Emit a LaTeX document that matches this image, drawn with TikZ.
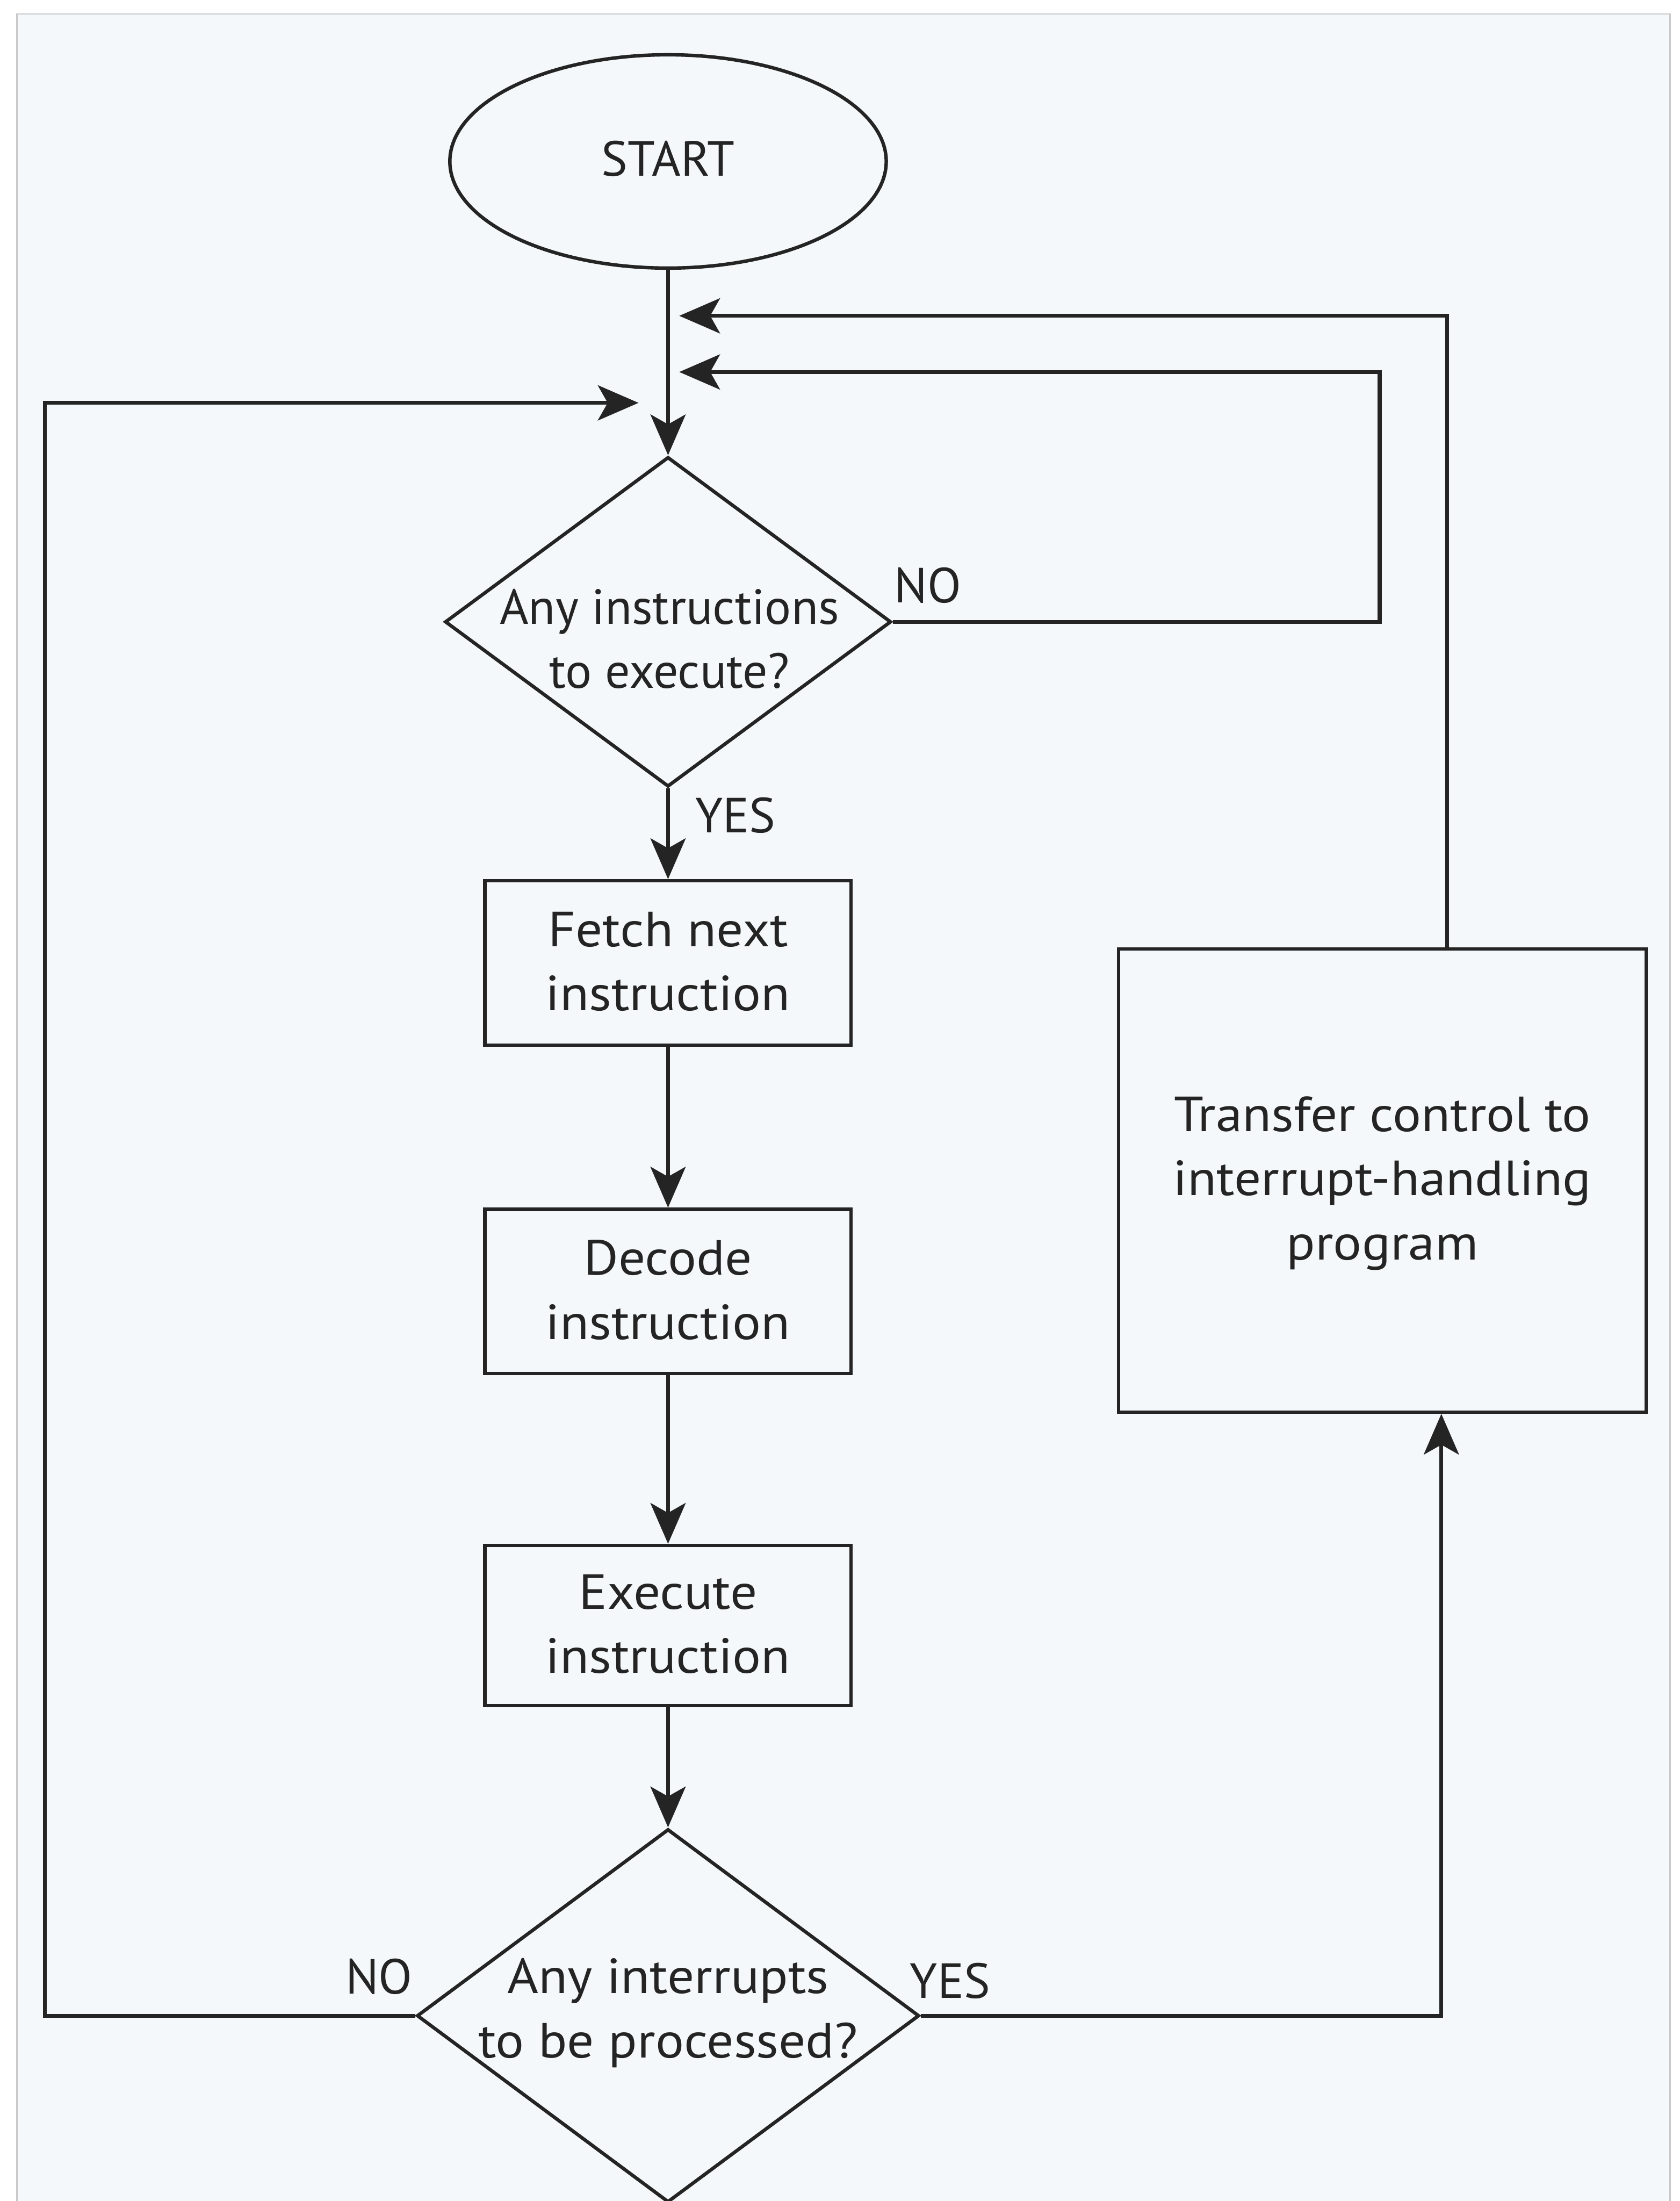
\documentclass[tikz,border=0pt]{standalone}
\usepackage{fontspec}
\setmainfont{PT Sans}
\newfontfamily\widefont[FakeStretch=1.08]{PT Sans}
\usetikzlibrary{shapes.geometric,arrows.meta}
\definecolor{ink}{HTML}{242424}
\definecolor{paper}{HTML}{F4F8FA}
\definecolor{framec}{HTML}{C8C8C8}
\begin{document}
\begin{tikzpicture}[x=0.02cm,y=-0.02cm,
  every node/.style={text=ink},
  shapeline/.style={draw=ink,line width=1.4pt},
  term/.style={shapeline,ellipse,minimum width=6.22cm,minimum height=3.04cm,inner sep=0pt},
  dia/.style={shapeline,diamond,inner sep=0pt},
  procbox/.style={shapeline,rectangle,minimum width=5.22cm,minimum height=2.34cm,inner sep=0pt},
  txt/.style={align=center,inner sep=0pt,font=\fontsize{20}{26}\selectfont},
  widetxt/.style={align=center,inner sep=0pt,font=\widefont\fontsize{20}{26}\selectfont},
  lbl/.style={inner sep=0pt,font=\fontsize{20}{26}\selectfont},
  conn/.style={draw=ink,line width=1.6pt},
  arr/.style={conn,-{Stealth[length=0.58cm,width=0.5cm,inset=0.14cm]}}]
\useasboundingbox (0,0) rectangle (1197,1568);
\fill[white] (0,0) rectangle (1197,1568);
\filldraw[fill=paper,draw=framec,line width=0.6pt] (12,10) rectangle (1190,1590);

% shapes
\node[term] (start) at (476,115) {};
\node[txt] (startt) at (476,113) {START};
\node[dia,minimum width=6.36cm,minimum height=4.70cm] (d1) at (476,443) {};
\node[txt] (d1t) at (477,455) {Any instructions\\to execute?};
\node[procbox] (b1) at (476,686) {};
\node[widetxt] (b1t) at (476,685) {Fetch next\\instruction};
\node[procbox] (b2) at (476,920) {};
\node[widetxt] (b2t) at (476,919) {Decode\\instruction};
\node[procbox,minimum height=2.28cm] (b3) at (476,1158) {};
\node[widetxt] (b3t) at (476,1157) {Execute\\instruction};
\node[dia,minimum width=7.16cm,minimum height=5.32cm] (d2) at (476,1436) {};
\node[widetxt] (d2t) at (476,1434) {Any interrupts\\to be processed?};
\node[shapeline,rectangle,minimum width=7.52cm,minimum height=6.6cm,inner sep=0pt] (tr) at (985,841) {};
\node[widetxt] (trt) at (985,843) {Transfer control to\\interrupt-handling\\program};

% labels
\node[lbl] (no1) at (661,417) {NO};
\node[lbl] (yes1) at (524,581) {YES};
\node[lbl] (no2) at (270,1408) {NO};
\node[lbl] (yes2) at (677,1411) {YES};

% corner coordinates
\coordinate (nlb) at (32,1436);
\coordinate (nlt) at (32,287);
\coordinate (nle) at (455,287);
\coordinate (n1c) at (983,443);
\coordinate (n1t) at (983,265);
\coordinate (n1e) at (484,265);
\coordinate (tyc) at (1031,225);
\coordinate (tye) at (484,225);
\coordinate (yc) at (1027,1436);

% connectors
\draw[arr] (start.south) -- (d1.north);
\draw[arr] (d1.south) -- (b1.north);
\draw[arr] (b1.south) -- (b2.north);
\draw[arr] (b2.south) -- (b3.north);
\draw[arr] (b3.south) -- (d2.north);
\draw[arr] (d2.west) -- (nlb) -- (nlt) -- (nle);
\draw[arr] (d1.east) -- (n1c) -- (n1t) -- (n1e);
\draw[arr] (tr.north -| tyc) -- (tyc) -- (tye);
\draw[arr] (d2.east) -- (yc) -- (yc |- tr.south);
\end{tikzpicture}
\end{document}
